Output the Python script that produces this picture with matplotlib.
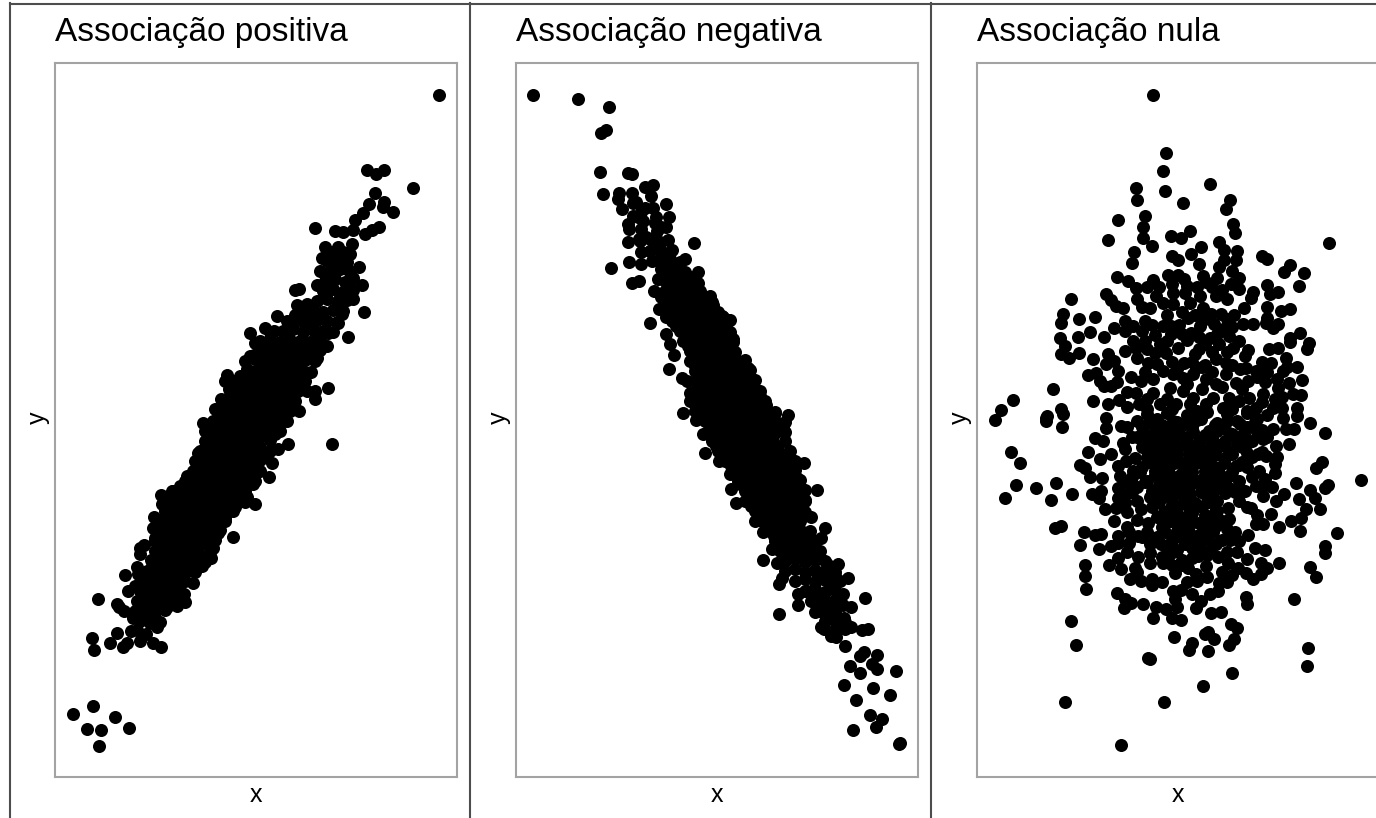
import matplotlib
matplotlib.use("Agg")
import matplotlib.pyplot as plt
from matplotlib.lines import Line2D

# values, (x, y) in panel units: 0-402 wide, 0-714 high
pos_outer = [
    (18,63),(38,71),(32,48),(46,47),(60,60),(74,49),(44,31),
    (37,139),(39,127),(43,178),(55,134),(62,144),(64,170),(68,130),(72,134),(76,146),(70,202),(62,173),
    (69,166),(78,161),(73,186),(88,166),(95,154),(85,136),(83,203),(82,147),(78,159),(82,176),(80,191),
    (106,130),(98,134),(91,143),(102,150),(138,194),(122,171),(130,175),(129,183),(147,211),(156,219),
    (158,229),(163,244),(178,240),(200,273),(192,280),(180,270),(170,259),(214,300),(217,314),(223,328),
    (233,333),(198,293),(143,324),(132,301),(117,286),(106,282),(107,273),(99,260),(98,249),(100,239),
    (85,229),(89,232),(85,223),(96,217),(82,210),(88,199),
    (384,682),(277,333),(358,589),(312,607),(329,607),(321,603),(320,584),(329,575),(328,570),(338,565),
    (314,573),(308,564),(300,557),(260,549),(280,546),(288,545),(298,547),(324,550),(317,547),(310,543),
    (297,533),(270,530),(283,530),(295,523),(267,519),(285,519),(265,506),(304,510),(298,499),(262,492),
    (307,492),(240,487),(244,488),(298,478),(309,465),(293,440),(287,463),(283,454),(273,444),(272,431),
    (262,419),(256,405),(273,389),(260,386),(260,378),(252,386),(244,366),(232,356),(220,343),(252,473),
    (242,472),(222,461),(210,449),(219,446),(195,444),(199,422),(192,408),(172,402),(185,398),(174,388),
    (166,378),(160,368),(148,354),(155,346),(168,359),
    (275,525),(288,525),(280,512),(292,508),(270,490),(285,480),(255,460),(295,490),(250,452),(240,462),
    (232,446),(215,445),(200,434),(262,445),(238,425),(215,408),(195,395),(170,396),
]
pos_core = [
    (272,516),(282,518),(292,515),(275,506),(285,508),(295,505),(270,496),(280,498),(290,495),
    (268,486),(278,488),(288,485),(298,487),(262,476),(272,478),(282,475),(292,477),
    (248,466),(258,468),(268,465),(278,467),(288,466),(232,456),(242,458),(252,455),(262,457),(272,456),(282,455),
    (228,446),(238,448),(248,445),(258,447),(268,446),(278,445),
    (205,436),(215,438),(225,435),(235,437),(245,436),(255,435),(265,437),
    (205,426),(215,428),(225,425),(235,427),(245,426),(255,425),(265,427),
    (190,416),(200,418),(210,415),(220,417),(230,416),(240,415),(250,417),(260,416),
    (200,406),(210,408),(220,405),(230,407),(240,406),(250,405),
    (180,396),(190,398),(200,395),(210,397),(220,396),(230,395),(240,397),(250,396),
    (175,386),(185,388),(195,385),(205,387),(215,386),(225,385),(235,387),(243,386),
    (170,376),(180,378),(190,375),(200,377),(210,376),(220,375),(230,377),(240,376),
    (165,366),(175,368),(185,365),(195,367),(205,366),(215,365),(225,367),(235,366),
    (158,356),(168,358),(178,355),(188,357),(198,356),(208,355),(218,357),(228,356),
    (150,346),(160,348),(170,345),(180,347),(190,346),(200,345),(210,347),(225,346),
    (150,336),(160,338),(170,335),(180,337),(190,336),(200,335),(215,337),
    (145,326),(155,328),(165,325),(175,327),(185,326),(195,325),(205,327),(215,326),
    (140,316),(150,318),(160,315),(170,317),(180,316),(190,315),(205,317),
    (138,306),(148,308),(158,305),(168,307),(178,306),(188,305),(198,307),(205,306),
    (130,296),(140,298),(150,295),(160,297),(170,296),(180,295),(190,297),(200,296),
    (118,286),(128,288),(138,285),(148,287),(158,286),(168,285),(178,287),(190,286),
    (112,276),(122,278),(132,275),(142,277),(152,276),(162,275),(172,277),(182,276),(190,275),
    (110,266),(120,268),(130,265),(140,267),(150,266),(160,265),(170,267),(178,266),
    (105,256),(115,258),(125,255),(135,257),(145,256),(155,255),(165,257),(170,256),
    (102,246),(112,248),(122,245),(132,247),(142,246),(152,245),(165,247),
    (100,236),(110,238),(120,235),(130,237),(140,236),(150,235),(160,237),
    (100,226),(110,228),(120,225),(130,227),(140,226),(155,225),
    (100,216),(110,218),(120,215),(130,217),(140,216),(150,215),
    (92,206),(102,208),(112,205),(122,207),(132,206),(140,205),
    (90,196),(100,198),(110,195),(120,197),(130,196),
    (85,186),(95,188),(105,185),(115,187),(125,186),
    (85,176),(95,178),(105,175),(120,177),
    (80,166),(90,168),(100,165),(110,167),(85,156),(95,158),(105,155),
    (210,431),(220,432),(230,430),(240,431),(250,432),(260,430),
    (195,421),(205,422),(215,420),(225,421),(235,422),(245,420),(255,421),
    (205,411),(215,412),(225,410),(235,411),(245,412),
    (185,401),(195,402),(205,400),(215,401),(225,402),(235,400),(245,401),
    (180,391),(190,392),(200,390),(210,391),(220,392),(230,390),(240,391),
    (180,381),(190,382),(200,380),(210,381),(220,382),(230,380),
    (175,371),(185,372),(195,370),(205,371),(215,372),(225,370),(235,371),
    (170,361),(180,362),(190,360),(200,361),(210,362),(220,360),(230,361),
    (163,351),(173,352),(183,350),(193,351),(203,352),(213,350),(223,351),
    (155,341),(165,342),(175,340),(185,341),(195,342),(205,340),(215,341),
    (155,331),(165,332),(175,330),(185,331),(195,332),(205,330),
    (150,321),(160,322),(170,320),(180,321),(190,322),(200,320),(210,321),
    (145,311),(155,312),(165,310),(175,311),(185,312),(195,310),
    (135,301),(145,302),(155,300),(165,301),(175,302),(185,300),(195,301),
    (125,291),(135,292),(145,290),(155,291),(165,292),(175,290),(185,291),
    (117,281),(127,282),(137,280),(147,281),(157,282),(167,280),(177,281),(185,282),
    (115,271),(125,272),(135,270),(145,271),(155,272),(165,270),(175,271),
    (110,261),(120,262),(130,260),(140,261),(150,262),(160,260),(170,261),
    (107,251),(117,252),(127,250),(137,251),(147,252),(157,250),
    (105,241),(115,242),(125,240),(135,241),(145,242),(155,240),
    (105,231),(115,232),(125,230),(135,231),(145,232),
    (105,221),(115,222),(125,220),(135,221),(145,222),
    (97,211),(107,212),(117,210),(127,211),(135,212),
    (95,201),(105,202),(115,200),(125,201),(90,191),(100,192),(110,190),(120,191),
    (90,181),(100,182),(110,180),(90,171),(100,172),(112,170),
]

neg_outer = [
    (17,682),(62,678),(93,670),(85,644),(90,647),(84,605),(112,604),(116,603),(87,583),(103,584),(102,578),
    (116,584),(117,574),(106,568),(129,590),(137,592),(135,581),(150,573),(129,569),(137,569),(153,560),
    (117,561),(112,553),(113,548),(127,556),(139,554),(141,546),(112,535),(123,538),(136,538),(152,537),
    (178,534),(134,526),(156,527),(113,515),(125,513),(136,516),(95,509),(169,518),(116,494),(123,496),
    (182,505),(182,494),(142,498),(138,486),(194,481),(143,468),(134,454),(214,457),(150,443),(154,433),
    (158,422),(153,408),(166,399),(171,396),(174,384),(167,364),(272,362),(259,364),(247,374),(237,396),
    (232,409),(217,438),(206,461),
    (180,357),(187,343),(189,324),(203,316),(214,303),(215,288),(220,274),(232,286),(239,256),(247,245),
    (256,228),(247,217),(261,214),(263,193),(266,199),(263,163),(282,183),(282,172),(299,165),(295,176),
    (308,148),(315,141),(329,131),(328,159),(327,172),(327,183),(332,199),(322,213),(311,213),(349,179),
    (346,147),(352,148),(348,125),(361,122),(344,121),(334,111),(356,113),(361,108),(344,104),(380,106),
    (328,92),(357,89),(374,82),(340,77),(354,62),(366,58),(360,50),(337,47),(383,33),(384,34),
    (267,349),(288,314),(301,287),(295,260),(309,249),(305,239),(302,224),(287,286),(289,276),(281,299),
    (271,309),(272,324),(319,201),(314,163),(329,148),(309,176),(291,186),
    (120,575),(125,565),(140,560),(145,550),(125,548),(130,540),(140,530),(150,550),(122,560),(145,520),
    (125,525),(155,515),(165,505),(145,508),(170,485),(175,475),(145,480),(150,460),(300,205),(315,190),
    (300,180),(310,165),(320,150),(320,140),(305,150),(335,170),(335,150),
]
neg_core = [
    (124,536),(134,538),(144,535),(134,526),(144,528),(154,525),(144,516),(154,518),(164,515),
    (149,506),(159,508),(169,505),(149,496),(159,498),(169,495),(179,497),
    (149,486),(159,488),(169,485),(179,487),(184,486),(149,476),(159,478),(169,475),(179,477),(189,476),(196,475),
    (152,466),(162,468),(172,465),(182,467),(192,466),(202,465),
    (156,456),(166,458),(176,455),(186,457),(196,456),(206,455),(212,457),
    (164,446),(174,448),(184,445),(194,447),(204,446),(214,445),
    (167,436),(177,438),(187,435),(197,437),(207,436),(217,435),
    (174,426),(184,428),(194,425),(204,427),(214,426),(219,425),
    (174,416),(184,418),(194,415),(204,417),(214,416),(224,415),(229,417),
    (179,406),(189,408),(199,405),(209,407),(219,406),(229,405),(234,407),
    (179,396),(189,398),(199,395),(209,397),(219,396),(229,395),(239,397),
    (179,386),(189,388),(199,385),(209,387),(219,386),(229,385),(239,387),(244,386),
    (174,376),(184,378),(194,375),(204,377),(214,376),(224,375),(234,377),(249,376),
    (179,366),(189,368),(199,365),(209,367),(219,366),(229,365),(239,367),(249,366),(259,365),
    (189,356),(199,358),(209,355),(219,357),(229,356),(239,355),(249,357),(259,356),(269,355),
    (192,346),(202,348),(212,345),(222,347),(232,346),(242,345),(252,347),(262,346),(269,345),
    (196,336),(206,338),(216,335),(226,337),(236,336),(246,335),(256,337),(269,336),
    (202,326),(212,328),(222,325),(232,327),(242,326),(252,325),(262,327),(274,326),
    (209,316),(219,318),(229,315),(239,317),(249,316),(259,315),(269,317),(279,316),
    (219,306),(229,308),(239,305),(249,307),(259,306),(269,305),(279,307),
    (222,296),(232,298),(242,295),(252,297),(262,296),(272,295),(284,297),
    (229,286),(239,288),(249,285),(259,287),(269,286),(279,285),(289,287),
    (229,276),(239,278),(249,275),(259,277),(269,276),(279,275),(289,277),
    (239,266),(249,268),(259,265),(269,267),(279,266),(289,265),
    (246,256),(256,258),(266,255),(276,257),(284,256),
    (254,246),(264,248),(274,245),(284,247),(294,246),
    (259,236),(269,238),(279,235),(289,237),(299,236),
    (264,226),(274,228),(284,225),(294,227),(304,226),
    (269,216),(279,218),(289,215),(299,217),(309,216),
    (269,206),(279,208),(289,205),(299,207),(309,206),(319,205),
    (279,196),(289,198),(299,195),(309,197),(324,196),
    (289,186),(299,188),(309,185),(319,187),
    (299,176),(319,177),(304,166),(312,168),(319,165),(309,156),(319,158),(329,155),
    (154,501),(164,502),(174,500),(154,491),(164,492),(174,490),
    (154,481),(164,482),(174,480),(184,481),(157,471),(167,472),(177,470),(187,471),(197,472),
    (157,461),(167,462),(177,460),(187,461),(197,462),(207,460),
    (160,451),(170,452),(180,450),(190,451),(200,452),(210,450),
    (170,441),(180,442),(190,440),(200,441),(210,442),
    (172,431),(182,432),(192,430),(202,431),(212,432),
    (179,421),(189,422),(199,420),(209,421),
    (179,411),(189,412),(199,410),(209,411),(219,412),(229,410),
    (184,401),(194,402),(204,400),(214,401),(224,402),(234,400),
    (184,391),(194,392),(204,390),(214,391),(224,392),(234,390),
    (184,381),(194,382),(204,380),(214,381),(224,382),(234,380),(244,381),
    (180,371),(190,372),(200,370),(210,371),(220,372),(230,370),(240,371),(250,372),
    (185,361),(195,362),(205,360),(215,361),(225,362),(235,360),(245,361),(255,362),
    (195,351),(205,352),(215,350),(225,351),(235,352),(245,350),(255,351),(265,352),
    (197,341),(207,342),(217,340),(227,341),(237,342),(247,340),(257,341),
    (200,331),(210,332),(220,330),(230,331),(240,332),(250,330),(260,331),
    (207,321),(217,322),(227,320),(237,321),(247,322),(257,320),(267,321),
    (215,311),(225,312),(235,310),(245,311),(255,312),(265,310),(275,311),
    (225,301),(235,302),(245,300),(255,301),(265,302),(275,300),
    (227,291),(237,292),(247,290),(257,291),(267,292),(277,290),
    (235,281),(245,282),(255,280),(265,281),(275,282),(285,280),
    (235,271),(245,272),(255,270),(265,271),(275,272),(285,270),
    (245,261),(255,262),(265,260),(275,261),(285,262),
    (250,251),(260,252),(270,250),(280,251),(258,241),(268,242),(278,240),(288,241),
    (265,231),(275,232),(285,230),(295,231),(270,221),(280,222),(290,220),(300,221),
]

null_points = [
    (176,682),(189,624),(186,606),(159,589),(160,577),(188,586),(233,593),(206,574),(253,577),(249,568),
    (141,557),(168,561),(166,550),(166,539),(175,531),(131,537),(194,541),(204,539),(213,546),(256,553),
    (258,544),(352,534),(242,535),(247,527),(224,530),(260,526),(157,525),(155,514),(195,521),(201,517),
    (214,523),(222,513),(247,517),(259,517),(242,510),(285,521),(290,518),(313,512),(307,505),(327,504),
    (322,491),(290,492),(293,483),(301,485),(276,485),(274,479),(267,469),(290,470),(304,466),(313,468),
    (290,459),(301,453),(296,449),(289,454),(276,453),(266,453),(257,462),(140,500),(151,496),(176,497),
    (191,502),(201,502),(207,498),(226,501),(229,495),(240,499),(255,506),(262,499),(254,493),(262,488),
    (159,489),(160,478),(129,483),(134,477),(94,478),(86,463),(84,454),(102,458),(118,460),(113,445),
    (101,440),(127,440),(83,439),(88,431),(84,423),(92,419),(102,424),(116,418),(76,388),(36,377),(84,368),
    (111,402),(119,404),(131,423),(141,406),(123,396),(134,391),(127,391),(116,376),(131,373),(142,377),
    (154,400),(171,414),(160,419),(148,426),(129,413),(137,416),(137,449),(148,446),(156,451),(168,456),
    (148,456),(146,469),(139,471),(168,436),(178,442),(156,436),(159,429),(179,481),(173,469),(186,474),
    (196,484),(196,473),(208,484),(213,474),(223,481),(239,481),(226,469),(234,463),(244,463),(211,459),
    (186,451),(194,451),(202,452),(194,443),(214,444),(223,451),(233,439),(228,433),(237,453),(246,448),
    (242,433),(256,429),(262,436),(271,427),(268,421),(183,433),(178,424),(189,424),(201,429),(218,423),
    (207,414),(219,409),(239,418),(249,414),(292,428),(301,429),(309,419),(294,414),(313,439),(313,435),
    (323,444),(332,434),(330,428),(320,410),(325,397),(306,406),(312,394),(324,382),(316,383),(305,369),
    (320,369),(288,395),(301,389),(298,378),(279,406),(269,409),(263,408),(271,396),(259,394),(249,403),
    (286,383),(272,379),(262,376),(252,379),(239,393),(229,398),(216,403),(206,399),(196,403),(186,406),
    (176,398),(164,396),(159,384),(176,384),(193,389),(206,386),(216,379),(236,379),(162,373),(183,373),
    (199,373),(213,373),(229,373),(246,369),(279,369),(296,369),
    (69,359),(86,363),(85,350),(129,359),(129,349),(144,351),(118,339),(126,336),(111,325),(146,334),
    (134,323),(123,318),(34,325),(43,314),(103,312),(108,309),(113,300),(125,299),(149,316),(141,311),
    (158,319),(143,301),(156,306),(39,292),(59,289),(79,294),(95,283),(28,279),(74,277),(115,283),(124,286),
    (122,279),(141,289),(141,279),(149,283),(128,268),(139,269),(148,274),(160,276),(164,268),(137,256),
    (160,257),(173,280),(171,254),(78,249),(84,251),(107,245),(124,243),(118,242),(141,241),(161,241),
    (103,232),(122,228),(134,231),(141,234),(152,234),(141,219),(132,212),(161,220),(173,233),(184,233),
    (173,224),(108,212),(108,201),(109,188),(144,208),(158,209),(153,198),(164,196),(175,198),(175,192),
    (173,214),(186,214),(198,204),(140,184),(148,178),(154,174),(147,169),(166,173),(179,170),(189,168),
    (176,159),(195,159),(204,157),(196,186),(204,187),(198,178),(215,183),(224,176),(219,169),(234,164),
    (244,165),(233,183),(242,194),(241,186),(220,196),(219,203),(211,209),(229,211),(241,220),(251,214),
    (261,209),(255,202),(269,204),(276,198),(284,203),(270,218),(284,214),(290,209),(302,214),(278,229),
    (288,227),(271,242),(262,236),(253,237),(239,233),(229,243),(223,233),(221,221),(208,233),(199,226),
    (193,223),(269,180),(270,173),(317,178),(333,210),(339,200),(348,231),(348,224),(360,244),(323,246),
    (302,250),(314,256),(324,259),(329,268),(343,268),(322,278),(338,279),(333,287),(319,294),(348,289),
    (351,292),(339,309),(345,315),(307,283),(299,276),(294,263),(286,253),(279,253),(274,269),(262,276),
    (251,269),(252,258),(286,281),(279,291),(268,286),(288,298),(282,306),(298,304),(298,313),(312,333),
    (299,331),(289,321),(281,323),(269,333),(259,311),(262,296),(252,289),(317,348),(309,348),(333,354),
    (348,344),(320,361),(306,359),(296,348),(286,338),
    (88,75),(144,32),(187,75),(94,156),(99,132),(171,119),(173,118),(226,91),(255,104),(331,129),(330,111),
    (384,297),(24,367),(18,357),(70,361),(69,356),(197,140),(215,134),(231,145),(237,138),(254,153),
    (260,149),(257,138),(252,132),(212,127),(231,126),(228,143),
    (160,356),(170,363),(180,358),(190,364),(200,355),(210,362),(220,357),(230,365),(240,354),(250,363),
    (260,356),(270,364),(280,358),(290,362),(165,350),(178,347),(190,349),(200,344),(215,350),(232,346),
    (245,349),(255,343),(270,350),(285,347),(160,340),(172,337),(185,339),(195,334),(210,340),(222,336),
    (235,339),(245,333),(260,340),(275,336),(165,330),(175,327),(190,329),(200,324),(215,330),(228,326),
    (240,329),(255,323),(265,330),(170,320),(180,316),(192,319),(205,314),(218,320),(232,316),(248,319),
    (265,315),(275,320),(165,310),(178,306),(190,309),(205,304),(215,310),(228,306),(240,309),(255,305),
    (270,310),(155,300),(170,296),(185,299),(195,294),(208,300),(222,296),(235,299),(248,295),(160,290),
    (175,286),(190,289),(200,284),(212,290),(225,286),(240,289),(258,285),(185,280),(195,276),(208,279),
    (218,274),(230,280),(240,276),(175,270),(190,266),(200,269),(215,264),(225,270),(240,266),(180,260),
    (195,256),(205,259),(222,254),(232,260),(245,256),(185,250),(200,246),(210,249),(225,244),(238,250),
    (180,240),(195,237),(205,239),(215,235),(230,240),(245,237),(190,230),(200,227),(215,229),(225,225),
    (235,230),(185,220),(205,217),(215,219),
    (172,355),(185,352),(196,356),(208,353),(224,358),(238,352),(250,356),(263,353),(278,355),
    (166,345),(178,343),(190,346),(203,342),(216,345),(228,342),(240,346),(252,344),(267,343),(280,345),
    (170,335),(183,333),(195,336),(207,332),(222,335),(234,332),(248,336),(260,333),(272,335),
    (175,325),(186,323),(198,326),(212,322),(225,325),(238,322),(252,326),(270,324),
    (172,315),(184,312),(197,314),(210,313),(222,315),(235,311),(247,314),(262,312),
    (163,305),(178,302),(192,304),(202,301),(215,305),(228,302),(242,304),(252,301),
    (168,295),(182,292),(195,296),(206,293),(218,295),(232,292),(245,293),
    (178,285),(190,282),(202,285),(213,283),(224,285),(235,282),(248,284),
    (182,275),(195,272),(207,274),(220,272),(232,275),(187,265),(198,262),(212,264),(228,262),(238,265),
    (190,255),(205,252),(216,255),(230,252),(240,254),(188,245),(200,242),(212,245),(222,242),(236,245),
    (170,490),(182,490),(195,493),(210,491),(220,490),(235,490),(245,487),(250,478),(165,470),(190,462),
    (205,465),(218,462),(228,458),(250,458),(255,450),(165,446),(175,452),(205,443),(222,440),(240,443),
    (252,441),(170,428),(190,436),(210,437),(222,428),(235,425),(250,425),(195,415),(215,415),(228,412),
    (168,405),(180,413),(200,408),(235,405),(255,412),(280,400),(290,405),(300,398),(285,375),(265,388),
    (245,390),(225,388),(190,378),(170,378),(150,370),(150,385),(140,395),(210,393),(225,410),(305,380),
    (310,410),(285,415),(170,368),(195,368),(220,366),(255,368),(270,366),
    (150,350),(155,340),(148,328),(150,295),(155,285),(150,265),(150,250),(152,245),(285,325),(290,340),
    (300,320),(275,300),(285,290),(270,270),(280,262),(295,290),(165,240),(170,245),(250,248),(258,245),
    (150,225),(195,212),(205,212),(230,222),(250,225),(260,225),(160,205),(185,195),(210,195),(230,200),
    (250,195),(245,205),(200,170),
]

titles = ["Associação positiva", "Associação negativa", "Associação nula"]
panel_left = [55, 516, 977]
panel_data = [pos_outer + pos_core, neg_outer + neg_core, null_points]

W, H = 1376, 818
plt.rcParams["font.family"] = ["Liberation Sans", "DejaVu Sans"]

fig = plt.figure(figsize=(W / 100, H / 100), dpi=100)

for left, title, points in zip(panel_left, titles, panel_data):
    ax = fig.add_axes([left / W, (H - 776.5) / H, 401.5 / W, 714 / H])
    xs = [p[0] for p in points]
    ys = [p[1] for p in points]
    ax.scatter(xs, ys, s=88, color="black", linewidths=0)
    ax.set_xlim(0, 402)
    ax.set_ylim(0, 714)
    ax.set_xticks([])
    ax.set_yticks([])
    for spine in ax.spines.values():
        spine.set_color("#a3a3a3")
        spine.set_linewidth(1.5)
    fig.text(left / W, (H - 41.5) / H, title, fontsize=24, color="black", ha="left", va="baseline")
    ax.set_xlabel("x", fontsize=18, labelpad=5)
    fig.text((left - 17) / W, (H - 418) / H, "y", fontsize=18, rotation=90, ha="center", va="center")

# panel frame lines
for x in [10, 470, 931.5]:
    fig.add_artist(Line2D([x / W, x / W], [0, (H - 3) / H], color="#4d4d4d", lw=1.5))
fig.add_artist(Line2D([10 / W, 1], [(H - 3.5) / H, (H - 3.5) / H], color="#4d4d4d", lw=1.5))

fig.savefig("out.png", dpi=100)
